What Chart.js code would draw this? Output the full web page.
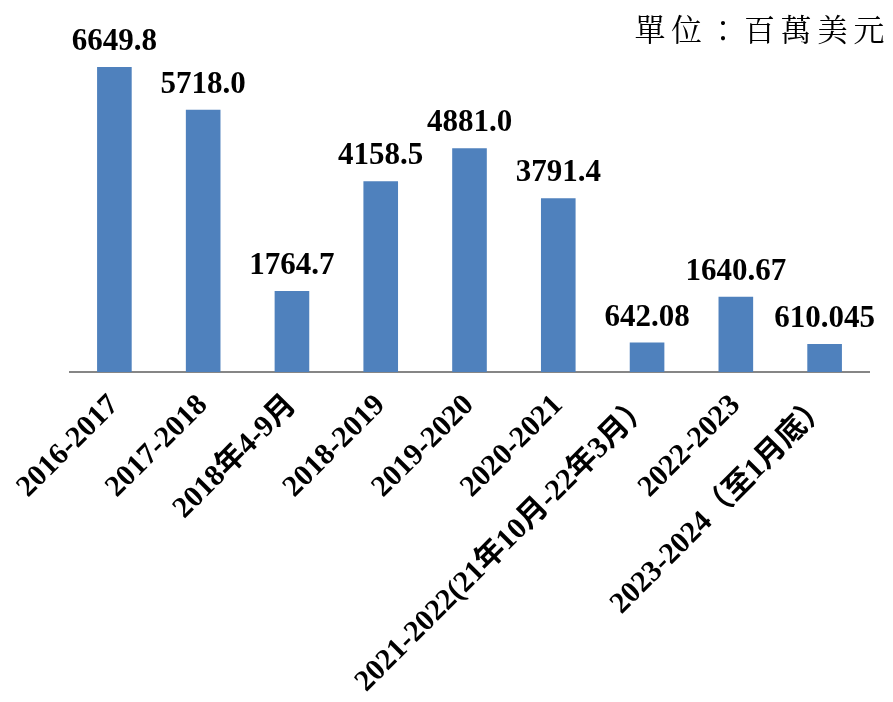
<!DOCTYPE html>
<html>
<head>
<meta charset="utf-8">
<script src="https://cdn.jsdelivr.net/npm/chart.js@4.4.1/dist/chart.umd.min.js"></script>
<style>
    html, body { margin: 0; padding: 0; background: #fff; }
    #wrap { position: relative; width: 893px; height: 702px; }
    #unidad {
        position: absolute; top: 5px; right: 3px;
        font-family: "Noto Serif CJK TC", "Noto Sans CJK TC", serif;
        font-size: 31px; letter-spacing: 5.5px; color: #000;
    }
</style>
</head>
<body>
<div id="wrap">
    <canvas id="grafico" width="893" height="702"></canvas>
    <div id="unidad">單位：百萬美元</div>
</div>
<script>
// datos
const categorias = [
    "2016-2017",
    "2017-2018",
    "2018年4-9月",
    "2018-2019",
    "2019-2020",
    "2020-2021",
    "2021-2022(21年10月-22年3月）",
    "2022-2023",
    "2023-2024（至1月底）"
];
const valores = [6649.8, 5718.0, 1764.7, 4158.5, 4881.0, 3791.4, 642.08, 1640.67, 610.045];
const etiquetasValor = ["6649.8", "5718.0", "1764.7", "4158.5", "4881.0", "3791.4", "642.08", "1640.67", "610.045"];

const FUENTE = '"Liberation Serif", "Times New Roman", "Noto Sans CJK TC", serif';

// etiquetas encima de cada barra
const etiquetasPlugin = {
    id: "etiquetas",
    afterDatasetsDraw(chart) {
        const ctx = chart.ctx;
        const meta = chart.getDatasetMeta(0);
        ctx.save();
        ctx.font = "bold 31px " + FUENTE;
        ctx.fillStyle = "#000";
        ctx.textAlign = "center";
        ctx.textBaseline = "alphabetic";
        meta.data.forEach((bar, i) => {
            ctx.fillText(etiquetasValor[i], bar.x, bar.y - 17);
        });
        ctx.restore();
    }
};

new Chart(document.getElementById("grafico"), {
    type: "bar",
    data: {
        labels: categorias,
        datasets: [
            {
                data: valores,
                backgroundColor: "#4F81BD",
                borderWidth: 0,
                barPercentage: 0.39,
                categoryPercentage: 1.0,
            },
        ],
    },
    options: {
        responsive: false,
        animation: false,
        layout: { padding: { left: 70, right: 24, top: 51, bottom: 0 } },
        plugins: {
            legend: { display: false },
            tooltip: { enabled: false },
        },
        scales: {
            x: {
                grid: { display: false, drawTicks: false },
                border: { display: true, color: "#868686", width: 2 },
                ticks: {
                    color: "#000",
                    font: { family: FUENTE, size: 30, weight: "bold" },
                    minRotation: 45,
                    maxRotation: 45,
                    autoSkip: false,
                    padding: 16,
                },
                afterFit(scale) {
                    scale.height = 330;
                },
            },
            y: {
                display: false,
                min: 0,
                max: 7000,
            },
        },
    },
    plugins: [etiquetasPlugin],
});
</script>
</body>
</html>
